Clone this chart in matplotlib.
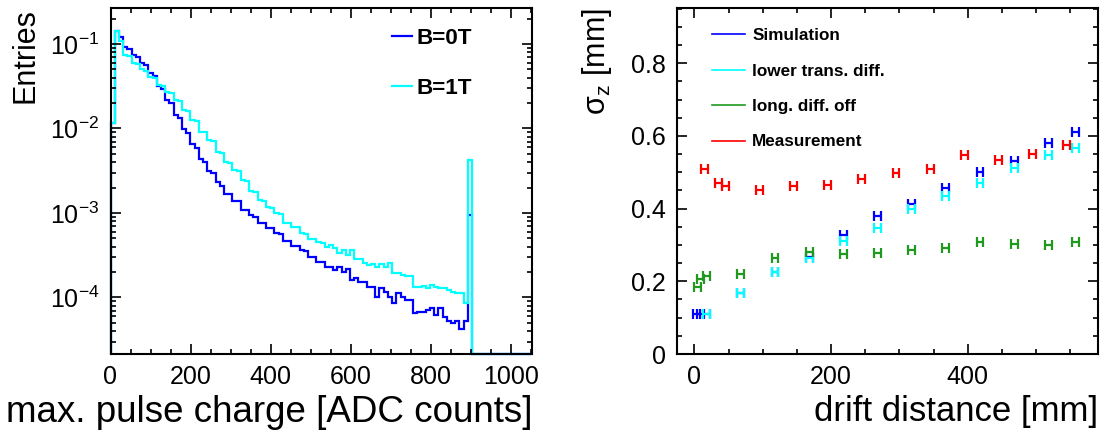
import numpy as np
import matplotlib
matplotlib.use("Agg")
import matplotlib.pyplot as plt
from matplotlib.ticker import MultipleLocator, FuncFormatter, LogLocator
from matplotlib.lines import Line2D

plt.rcParams['font.family'] = ['Liberation Sans', 'DejaVu Sans']
plt.rcParams['mathtext.fontset'] = 'custom'
plt.rcParams['mathtext.rm'] = 'Liberation Sans'
plt.rcParams['mathtext.it'] = 'Liberation Sans:italic'
plt.rcParams['mathtext.default'] = 'regular'

# left panel: pulse charge histograms, 100 bins from 0 to 1050 ADC counts
charge_range = (0, 1050)
n_bins = 100
b0t = [0.0115, 0.143, 0.120, 0.092, 0.088, 0.075, 0.071, 0.060, 0.056, 0.045,
       0.042, 0.032, 0.029, 0.0217, 0.0199, 0.0145, 0.0132, 0.0098, 0.0088, 0.0066,
       0.0058, 0.0043, 0.0040, 0.0031, 0.0030, 0.0023, 0.0021, 0.0017, 0.0017, 0.0014,
       0.0014, 0.00109, 0.00109, 0.00095, 0.00090, 0.00076, 0.00076, 0.00066, 0.00066, 0.00058,
       0.00057, 0.00047, 0.00047, 0.00041, 0.00041, 0.00036, 0.00035, 0.00030, 0.00030, 0.000265,
       0.000265, 0.000232, 0.000232, 0.000212, 0.000228, 0.000202, 0.000215, 0.000161, 0.000169, 0.000154,
       0.000154, 0.000134, 0.000134, 0.000102, 0.000128, 0.000117, 0.000102, 0.000085, 0.000112, 0.000102,
       0.000093, 0.000093, 0.000065, 0.000068, 0.000068, 0.000071, 0.000074, 0.000062, 0.000074, 0.000059,
       0.000052, 0.000050, 0.000052, 0.000042, 0.000052, 0.00095, 0, 0, 0, 0,
       0, 0, 0, 0, 0, 0, 0, 0, 0, 0]
b1t = [0.0115, 0.143, 0.110, 0.074, 0.072, 0.060, 0.058, 0.050, 0.048, 0.041,
       0.040, 0.0327, 0.0320, 0.0273, 0.0265, 0.0217, 0.0210, 0.0166, 0.0160, 0.0126,
       0.0122, 0.0092, 0.0090, 0.0073, 0.0071, 0.0053, 0.0051, 0.0040, 0.0039, 0.0032,
       0.0031, 0.00246, 0.00240, 0.00180, 0.00178, 0.00143, 0.00140, 0.00117, 0.00115, 0.00099,
       0.00097, 0.00077, 0.00077, 0.00069, 0.00068, 0.000575, 0.00056, 0.000488, 0.000488, 0.000458,
       0.000438, 0.00040, 0.000417, 0.000382, 0.000333, 0.000365, 0.000319, 0.000365, 0.000283, 0.000283,
       0.000258, 0.000242, 0.00025, 0.000232, 0.00025, 0.000228, 0.000258, 0.000193, 0.000193, 0.000185,
       0.000177, 0.000177, 0.000134, 0.000134, 0.000136, 0.000128, 0.00014, 0.000134, 0.000128, 0.000128,
       0.000122, 0.000117, 0.000114, 0.000112, 0.000087, 0.0042, 0, 0, 0, 0,
       0, 0, 0, 0, 0, 0, 0, 0, 0, 0]

# right panel: sigma_z vs drift distance
dist_sim = [3, 9, 18, 68, 118, 168, 218, 268, 318, 368, 418, 468, 518, 558]
sig_sim = [0.110, 0.110, 0.110, 0.167, 0.226, 0.268, 0.327, 0.380, 0.413, 0.458, 0.500, 0.532, 0.581, 0.610]
dist_trans = [18, 68, 118, 168, 218, 268, 318, 368, 418, 468, 518, 558]
sig_trans = [0.110, 0.167, 0.226, 0.265, 0.312, 0.348, 0.398, 0.436, 0.471, 0.513, 0.547, 0.568]
dist_long = [5, 9, 18, 68, 118, 168, 218, 268, 318, 368, 418, 468, 518, 558]
sig_long = [0.185, 0.206, 0.215, 0.219, 0.265, 0.281, 0.275, 0.279, 0.286, 0.292, 0.308, 0.304, 0.299, 0.307]
dist_meas = [15, 35, 45, 95, 145, 195, 245, 295, 345, 395, 445, 495, 545]
sig_meas = [0.508, 0.471, 0.462, 0.451, 0.462, 0.465, 0.482, 0.497, 0.509, 0.547, 0.535, 0.550, 0.575]
dist_err = 5

BLUE = '#0000ff'
CYAN = '#00ffff'
GREEN = '#1f9a1f'
RED = '#ff0000'

W, H = 1103, 437
fig = plt.figure(figsize=(W / 100, H / 100), dpi=100)
ax1 = fig.add_axes([110.5 / W, 83 / H, 421.5 / W, 346 / H])
ax2 = fig.add_axes([676.7 / W, 83 / H, 421.5 / W, 346 / H])


def style_axes(ax):
    for s in ax.spines.values():
        s.set_linewidth(1.5)
    ax.tick_params(which='both', direction='in', top=True, right=True,
                   width=1.2, labelsize=18, pad=8)
    ax.tick_params(which='major', length=7.5)
    ax.tick_params(which='minor', length=3.8)


# ---- left: histograms
ymin, ymax = 2.14e-5, 0.267
edges = np.linspace(charge_range[0], charge_range[1], n_bins + 1)
for vals, col in [(b0t, BLUE), (b1t, CYAN)]:
    v = np.asarray(vals, dtype=float)
    v = np.where(v > 0, v, ymin)
    ax1.stairs(v, edges, baseline=ymin, color=col, lw=1.6, clip_on=False)

ax1.set_yscale('log')
ax1.set_ylim(ymin, ymax)
ax1.set_xlim(0, 1053)
ax1.xaxis.set_major_locator(MultipleLocator(200))
ax1.xaxis.set_minor_locator(MultipleLocator(50))
ax1.yaxis.set_major_locator(LogLocator(base=10))
ax1.yaxis.set_minor_locator(LogLocator(base=10, subs=np.arange(2, 10)))
style_axes(ax1)
ax1.set_xlabel('max. pulse charge [ADC counts]', fontsize=26.5, loc='right', labelpad=4)
fig.text(26 / W, 1 - 8 / H, 'Entries', rotation=90, ha='center', va='top', fontsize=22)

h1 = [Line2D([], [], color=BLUE, lw=1.6), Line2D([], [], color=CYAN, lw=1.6)]
ax1.legend(h1, ['B=0T', 'B=1T'], loc='upper left', bbox_to_anchor=(391.7 / W, 1 - 28 / H),
           bbox_transform=fig.transFigure, frameon=False, borderpad=0, borderaxespad=0,
           handlelength=0.9, handletextpad=0.2, labelspacing=1.3,
           prop=dict(weight='bold', size=16.2))

# ---- right: sigma_z
for x, y, col in [(dist_sim, sig_sim, BLUE), (dist_trans, sig_trans, CYAN),
                  (dist_long, sig_long, GREEN), (dist_meas, sig_meas, RED)]:
    ax2.errorbar(x, y, xerr=dist_err, fmt='none', ecolor=col, elinewidth=1.6,
                 capsize=3.8, capthick=1.6)

ax2.set_xlim(-26, 591)
ax2.set_ylim(0, 0.952)
ax2.xaxis.set_major_locator(MultipleLocator(200))
ax2.xaxis.set_minor_locator(MultipleLocator(50))
ax2.yaxis.set_major_locator(MultipleLocator(0.2))
ax2.yaxis.set_minor_locator(MultipleLocator(0.05))
ax2.yaxis.set_major_formatter(FuncFormatter(lambda v, p: f'{v:g}'))
style_axes(ax2)
ax2.set_xlabel('drift distance [mm]', fontsize=25, loc='right', labelpad=4)
fig.text(597 / W, 1 - 8 / H, 'σ$_z$ [mm]', rotation=90, ha='center', va='top', fontsize=22)

h2 = [Line2D([], [], color=c, lw=1.2) for c in (BLUE, CYAN, GREEN, RED)]
ax2.legend(h2, ['Simulation', 'lower trans. diff.', 'long. diff. off', 'Measurement'],
           loc='upper left', bbox_to_anchor=(711.7 / W, 1 - 28 / H),
           bbox_transform=fig.transFigure, frameon=False, borderpad=0, borderaxespad=0,
           handlelength=1.95, handletextpad=0.42, labelspacing=1.2,
           prop=dict(weight='bold', size=12.3))

fig.savefig('out.png', dpi=100)
